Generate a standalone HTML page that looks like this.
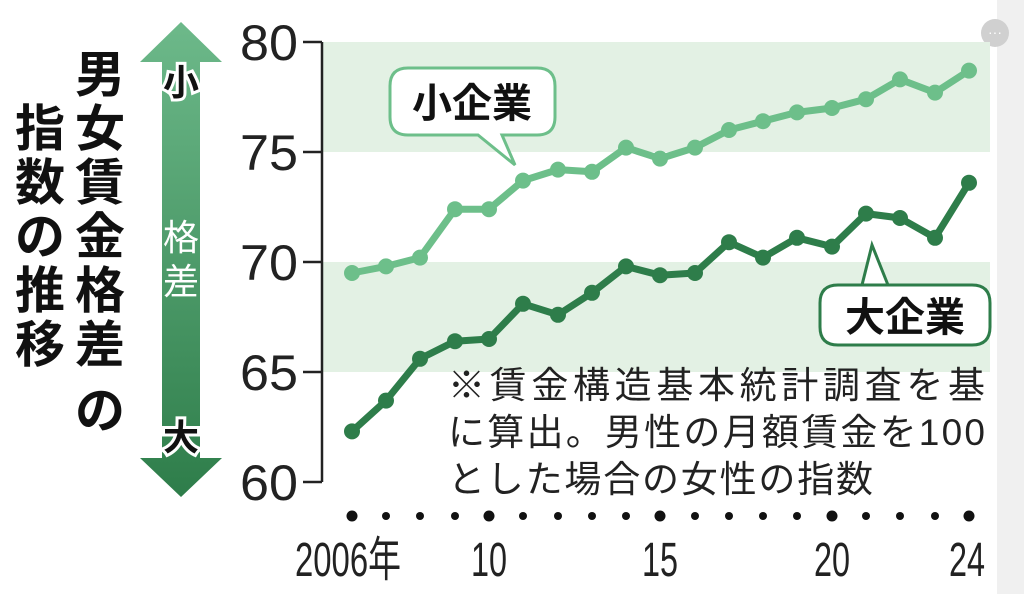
<!DOCTYPE html>
<html><head><meta charset="utf-8"><style>
html,body{margin:0;padding:0;background:#fff;}
svg{display:block;font-family:"Liberation Sans","Noto Sans CJK JP",sans-serif;}
</style></head><body>
<svg width="1024" height="594" viewBox="0 0 1024 594" xmlns="http://www.w3.org/2000/svg">
<defs>
<linearGradient id="g" x1="0" y1="0" x2="0" y2="1">
<stop offset="0" stop-color="#6db98a"/><stop offset="1" stop-color="#2e7d4a"/>
</linearGradient>
</defs>
<rect x="997" y="0" width="27" height="594" fill="#f0f0f0"/>
<circle cx="995" cy="33" r="14" fill="#d0d0d0"/>
<text x="995" y="37" font-size="14" fill="#fff" text-anchor="middle">···</text>
<rect x="322" y="42" width="668" height="110" fill="#e3f1e4"/>
<rect x="322" y="262" width="668" height="110" fill="#e3f1e4"/>
<path d="M322 42 V482" stroke="#222" stroke-width="2.5" fill="none"/>
<g stroke="#222" stroke-width="2.5">
<line x1="303" y1="42" x2="322" y2="42"/><line x1="303" y1="152" x2="322" y2="152"/>
<line x1="303" y1="262" x2="322" y2="262"/><line x1="303" y1="372" x2="322" y2="372"/>
<line x1="303" y1="482" x2="322" y2="482"/></g>
<g font-size="50" fill="#222" text-anchor="end">
<text x="298" y="60" textLength="58" lengthAdjust="spacingAndGlyphs">80</text>
<text x="298" y="170" textLength="58" lengthAdjust="spacingAndGlyphs">75</text>
<text x="298" y="280" textLength="58" lengthAdjust="spacingAndGlyphs">70</text>
<text x="298" y="390" textLength="58" lengthAdjust="spacingAndGlyphs">65</text>
<text x="298" y="500" textLength="58" lengthAdjust="spacingAndGlyphs">60</text></g>
<!-- arrow -->
<path d="M181 22 L222 62 L200 62 L200 458 L222 458 L181 497 L140 458 L162 458 L162 62 L140 62 Z" fill="url(#g)"/>
<g font-size="36" font-weight="bold" text-anchor="middle">
<text x="181" y="95" fill="#111" stroke="#fff" stroke-width="6" paint-order="stroke">小</text>
<text x="181" y="450" fill="#111" stroke="#fff" stroke-width="6" paint-order="stroke">大</text>
<text x="181" y="250" fill="#fff" font-weight="normal">格</text>
<text x="181" y="294" fill="#fff" font-weight="normal">差</text></g>
<!-- title -->
<g font-size="50" font-weight="bold" fill="#111" text-anchor="middle">
<text x="100" y="92">男</text><text x="100" y="146">女</text><text x="100" y="200">賃</text>
<text x="100" y="254">金</text><text x="100" y="308">格</text><text x="100" y="362">差</text>
<text x="100" y="428">の</text>
<text x="40" y="146">指</text><text x="40" y="200">数</text><text x="40" y="254">の</text>
<text x="40" y="308">推</text><text x="40" y="362">移</text></g>
<!-- series -->
<polyline fill="none" stroke="#6dbf8a" stroke-width="7" stroke-linejoin="round"
points="352,273 386,266.4 420,257.6 455,209.2 489,209.2 523,180.6 558,169.6 592,171.8 626,147.6 660,158.6 695,147.6 729,130 763,121.2 797,112.4 832,108 866,99.2 900,79.4 935,92.6 969,70.6"/>
<g fill="#6dbf8a">
<circle cx="352" cy="273" r="8"/><circle cx="386" cy="266.4" r="8"/><circle cx="420" cy="257.6" r="8"/><circle cx="455" cy="209.2" r="8"/><circle cx="489" cy="209.2" r="8"/><circle cx="523" cy="180.6" r="8"/><circle cx="558" cy="169.6" r="8"/><circle cx="592" cy="171.8" r="8"/><circle cx="626" cy="147.6" r="8"/><circle cx="660" cy="158.6" r="8"/><circle cx="695" cy="147.6" r="8"/><circle cx="729" cy="130" r="8"/><circle cx="763" cy="121.2" r="8"/><circle cx="797" cy="112.4" r="8"/><circle cx="832" cy="108" r="8"/><circle cx="866" cy="99.2" r="8"/><circle cx="900" cy="79.4" r="8"/><circle cx="935" cy="92.6" r="8"/><circle cx="969" cy="70.6" r="8"/></g>
<polyline fill="none" stroke="#2e7d4a" stroke-width="7" stroke-linejoin="round"
points="352,431.4 386,400.6 420,358.8 455,341.2 489,339 523,303.8 558,314.8 592,292.8 626,266.4 660,275.2 695,273 729,242.2 763,257.6 797,237.8 832,246.6 866,213.6 900,218 935,237.8 969,182.8"/>
<g fill="#2e7d4a">
<circle cx="352" cy="431.4" r="8"/><circle cx="386" cy="400.6" r="8"/><circle cx="420" cy="358.8" r="8"/><circle cx="455" cy="341.2" r="8"/><circle cx="489" cy="339" r="8"/><circle cx="523" cy="303.8" r="8"/><circle cx="558" cy="314.8" r="8"/><circle cx="592" cy="292.8" r="8"/><circle cx="626" cy="266.4" r="8"/><circle cx="660" cy="275.2" r="8"/><circle cx="695" cy="273" r="8"/><circle cx="729" cy="242.2" r="8"/><circle cx="763" cy="257.6" r="8"/><circle cx="797" cy="237.8" r="8"/><circle cx="832" cy="246.6" r="8"/><circle cx="866" cy="213.6" r="8"/><circle cx="900" cy="218" r="8"/><circle cx="935" cy="237.8" r="8"/><circle cx="969" cy="182.8" r="8"/></g>
<!-- bubbles -->
<path d="M408 68 H537 Q555 68 555 86 V117 Q555 135 537 135 H502 L515 165 L478 135 H408 Q390 135 390 117 V86 Q390 68 408 68 Z" fill="#fff" stroke="#6dbf8a" stroke-width="3"/>
<text x="472" y="117" font-size="40" font-weight="bold" fill="#111" text-anchor="middle">小企業</text>
<path d="M838 285 H972 Q990 285 990 303 V327 Q990 345 972 345 H838 Q820 345 820 327 V303 Q820 285 838 285 H862 L872 245 L888 285" fill="#fff" stroke="#2e7d4a" stroke-width="3"/>
<text x="905" y="331" font-size="40" font-weight="bold" fill="#111" text-anchor="middle">大企業</text>
<!-- note -->
<g font-size="37" fill="#222">
<text x="448" y="398" textLength="537">※賃金構造基本統計調査を基</text>
<text x="448" y="445" textLength="537">に算出。男性の月額賃金を100</text>
<text x="448" y="492" textLength="425">とした場合の女性の指数</text></g>
<!-- x dots -->
<g fill="#111">
<circle cx="352" cy="516" r="5.5"/><circle cx="386" cy="516" r="4"/><circle cx="420" cy="516" r="4"/><circle cx="455" cy="516" r="4"/><circle cx="489" cy="516" r="5.5"/><circle cx="523" cy="516" r="4"/><circle cx="558" cy="516" r="4"/><circle cx="592" cy="516" r="4"/><circle cx="626" cy="516" r="4"/><circle cx="660" cy="516" r="5.5"/><circle cx="695" cy="516" r="4"/><circle cx="729" cy="516" r="4"/><circle cx="763" cy="516" r="4"/><circle cx="797" cy="516" r="4"/><circle cx="832" cy="516" r="5.5"/><circle cx="866" cy="516" r="4"/><circle cx="900" cy="516" r="4"/><circle cx="935" cy="516" r="4"/><circle cx="969" cy="516" r="5.5"/></g>
<g font-size="48" fill="#222" text-anchor="middle">
<text x="348" y="576" textLength="106" lengthAdjust="spacingAndGlyphs">2006年</text>
<text x="489" y="576" textLength="36" lengthAdjust="spacingAndGlyphs">10</text>
<text x="660" y="576" textLength="36" lengthAdjust="spacingAndGlyphs">15</text>
<text x="832" y="576" textLength="36" lengthAdjust="spacingAndGlyphs">20</text>
<text x="967" y="576" textLength="36" lengthAdjust="spacingAndGlyphs">24</text></g>
</svg>
</body></html>
